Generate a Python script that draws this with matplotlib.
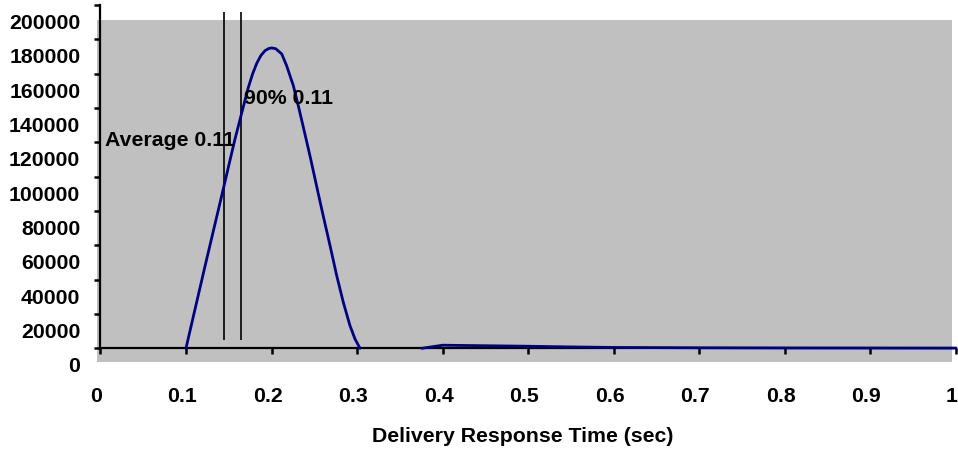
import numpy as np
import matplotlib
matplotlib.use("Agg")
import matplotlib.pyplot as plt
from matplotlib.transforms import ScaledTranslation
from matplotlib.patches import Rectangle

# ---- data ----
peak_x = [0.1000, 0.1215, 0.1436, 0.1573, 0.1651, 0.1729, 0.1780, 0.1827, 0.1875, 0.1924,
          0.1965, 0.2002, 0.2050, 0.2119, 0.2177, 0.2255, 0.2313, 0.2371, 0.2450, 0.2547,
          0.2605, 0.2684, 0.2762, 0.2839, 0.2917, 0.2976, 0.3034]
peak_y = [0, 46200, 92800, 121900, 137000, 152000, 160000, 166000, 170500, 173400,
          174600, 175000, 174500, 171500, 164600, 153000, 141300, 129000, 112000, 90000,
          77000, 59800, 42300, 26800, 13200, 5400, 0]
tail_x = [0.3756, 0.40, 0.45, 0.50, 0.55, 0.60, 0.70, 0.80, 0.90, 1.00]
tail_y = [0, 1800, 1500, 1200, 800, 500, 300, 200, 150, 100]

avg_x = 0.1448
p90_x = 0.1647
marker_top = 196000
marker_bottom = 5000

y_ticks = [0, 20000, 40000, 60000, 80000, 100000, 120000, 140000, 160000, 180000, 200000]
x_ticks = [0, 0.1, 0.2, 0.3, 0.4, 0.5, 0.6, 0.7, 0.8, 0.9, 1]
x_tick_labels = ["0", "0.1", "0.2", "0.3", "0.4", "0.5", "0.6", "0.7", "0.8", "0.9", "1"]
avg_label = "Average 0.11"
p90_label = "90% 0.11"
x_title = "Delivery Response Time (sec)"

# ---- figure ----
W, H, DPI = 958, 456, 100
plt.rcParams['font.family'] = ['Liberation Sans', 'DejaVu Sans']
plt.rcParams['font.weight'] = 'bold'
FS = 15.3

fig = plt.figure(figsize=(W / DPI, H / DPI), dpi=DPI)
fig.patch.set_facecolor('white')
ax = fig.add_axes([100.4 / W, (H - 349.3) / H, 855.6 / W, 343.3 / H])
ax.set_facecolor('none')

# grey plot area (offset slightly from the axes frame, as in the reference)
ax.add_patch(Rectangle((-0.004, -0.040), 0.9993, 0.9963, transform=ax.transAxes,
                       facecolor='#C0C0C0', edgecolor='none', zorder=-5, clip_on=False))

ax.set_xlim(0, 1)
ax.set_ylim(0, 200000)

ax.plot(peak_x + [np.nan] + tail_x, peak_y + [np.nan] + tail_y,
        color='#000080', lw=2.0, zorder=3, clip_on=False,
        solid_capstyle='round', solid_joinstyle='round')

ax.vlines([avg_x, p90_x], marker_bottom, marker_top, colors='black', lw=1.2, zorder=2)

ax.text(0.0054, 121900, avg_label, fontsize=FS, fontweight='bold', va='center', ha='left', zorder=4)
ax.text(0.1678, 146400, p90_label, fontsize=FS, fontweight='bold', va='center', ha='left', zorder=4)

for s in ['top', 'right']:
    ax.spines[s].set_visible(False)
for s in ['left', 'bottom']:
    ax.spines[s].set_linewidth(1.6)
    ax.spines[s].set_color('black')
    ax.spines[s].set_zorder(2.5)

ax.set_yticks(y_ticks)
ax.set_yticklabels([str(v) for v in y_ticks])
ax.set_xticks(x_ticks)
ax.set_xticklabels(x_tick_labels)
ax.tick_params(axis='y', direction='out', length=4.5, width=1.8, pad=10, labelsize=FS)
ax.tick_params(axis='x', direction='out', length=4.5, width=1.8, pad=23, labelsize=FS)

dy = ScaledTranslation(0, -15.5 / DPI, fig.dpi_scale_trans)
for lab in ax.get_yticklabels():
    lab.set_transform(lab.get_transform() + dy)
    lab.set_fontweight('bold')
dx = ScaledTranslation(-4 / DPI, 0, fig.dpi_scale_trans)
for lab in ax.get_xticklabels():
    lab.set_transform(lab.get_transform() + dx)
    lab.set_fontweight('bold')

fig.text(522.5 / W, 1 - 437 / H, x_title, fontsize=FS, fontweight='bold', ha='center', va='center')

fig.savefig('out.png', dpi=DPI)
